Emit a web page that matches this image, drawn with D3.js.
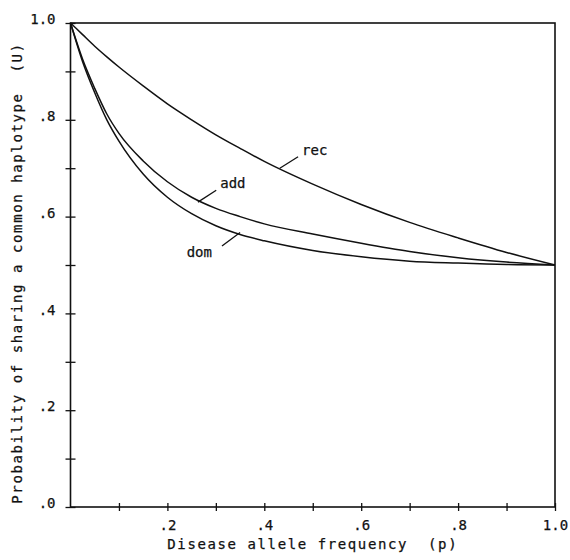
<!DOCTYPE html>
<html>
<head>
<meta charset="utf-8">
<script src="https://cdn.jsdelivr.net/npm/d3@7"></script>
<style>
  body { margin: 0; background: #fff; }
  text { font-family: "DejaVu Sans Mono", monospace; fill: #111; stroke: #111; stroke-width: 0.25; }
</style>
</head>
<body>
<script>
// values
const pValues   = [0, 0.025, 0.05, 0.075, 0.1, 0.15, 0.2, 0.25, 0.3, 0.35, 0.4, 0.5, 0.6, 0.7, 0.8, 0.9, 1.0];
const recValues = [1, 0.976, 0.952, 0.930, 0.909, 0.870, 0.833, 0.800, 0.769, 0.741, 0.714, 0.667, 0.625, 0.588, 0.556, 0.526, 0.5];
const addValues = [1, 0.925, 0.865, 0.812, 0.772, 0.715, 0.672, 0.640, 0.617, 0.600, 0.585, 0.564, 0.545, 0.528, 0.515, 0.506, 0.5];
const domValues = [1, 0.920, 0.856, 0.800, 0.756, 0.688, 0.640, 0.606, 0.581, 0.563, 0.550, 0.530, 0.517, 0.508, 0.504, 0.501, 0.5];

const seriesNames = ["rec", "add", "dom"];
// label text position (data units) and where its pointer meets the curve
const labelAt   = { rec: [0.478, 0.738], add: [0.309, 0.669], dom: [0.292, 0.527] };
const pointerTo = { rec: [0.432, 0.700], add: [0.263, 0.630], dom: [0.350, 0.567] };

const tickSteps = [0, 0.1, 0.2, 0.3, 0.4, 0.5, 0.6, 0.7, 0.8, 0.9, 1.0];
const tickLabels = { 0: ".0", 0.2: ".2", 0.4: ".4", 0.6: ".6", 0.8: ".8", 1: "1.0" };

const w = 570;
const h = 560;
const plotL = 70.5, plotR = 555, plotT = 23, plotB = 507;

const svg = d3.select("body")
    .append("svg")
    .attr("width", w)
    .attr("height", h);

const xScale = d3.scaleLinear().domain([0, 1]).range([plotL, plotR]);
const yScale = d3.scaleLinear().domain([0, 1]).range([plotB, plotT]);

const fmt = d => tickLabels[Math.round(d * 10) / 10] || "";

// frame
svg.append("rect")
    .attr("x", plotL).attr("y", plotT)
    .attr("width", plotR - plotL).attr("height", plotB - plotT)
    .attr("fill", "none").attr("stroke", "#111").attr("stroke-width", 1.6);

const xAxis = d3.axisBottom(xScale).tickValues(tickSteps.slice(1)).tickFormat(fmt).tickSize(4).tickPadding(6);
const yAxis = d3.axisLeft(yScale).tickValues(tickSteps).tickFormat(fmt).tickSize(5).tickPadding(10);

const gx = svg.append("g")
    .attr("transform", "translate(0," + plotB + ")")
    .call(xAxis);
gx.select(".domain").remove();
gx.selectAll(".tick line").attr("y1", -4).attr("stroke", "#111").attr("stroke-width", 1.3);
gx.selectAll(".tick text").attr("font-size", 14).attr("font-family", "DejaVu Sans Mono").attr("dy", "0.9em");

const gy = svg.append("g")
    .attr("transform", "translate(" + plotL + ",0)")
    .call(yAxis);
gy.select(".domain").remove();
gy.selectAll(".tick line").attr("x1", 5).attr("stroke", "#111").attr("stroke-width", 1.3);
gy.selectAll(".tick text").attr("font-size", 14).attr("font-family", "DejaVu Sans Mono").attr("dy", "0.05em");

// curves
const line = d3.line()
    .x((d, i) => xScale(pValues[i]))
    .y(d => yScale(d))
    .curve(d3.curveMonotoneX);

const seriesValues = { rec: recValues, add: addValues, dom: domValues };
seriesNames.forEach(name => {
    svg.append("path")
        .datum(seriesValues[name])
        .attr("d", line)
        .attr("fill", "none")
        .attr("stroke", "#111")
        .attr("stroke-width", 1.5);
});

// curve labels with pointers
seriesNames.forEach(name => {
    const lx = xScale(labelAt[name][0]), ly = yScale(labelAt[name][1]);
    const px = xScale(pointerTo[name][0]), py = yScale(pointerTo[name][1]);
    svg.append("text")
        .attr("x", lx).attr("y", ly)
        .attr("font-size", 14)
        .attr("text-anchor", name === "dom" ? "end" : "start")
        .attr("dy", "0.35em")
        .text(name);
    const sx = name === "dom" ? lx + 10 : lx - 4;
    const sy = name === "dom" ? ly - 6 : ly + 7;
    svg.append("line")
        .attr("x1", sx).attr("y1", sy)
        .attr("x2", px).attr("y2", py)
        .attr("stroke", "#111").attr("stroke-width", 1.3);
});

// axis titles
svg.append("text")
    .attr("x", (plotL + plotR) / 2)
    .attr("y", 549)
    .attr("text-anchor", "middle")
    .attr("font-size", 14)
    .attr("letter-spacing", 1.6)
    .style("white-space", "pre")
    .text("Disease allele frequency  (p)");

svg.append("text")
    .attr("transform", "translate(22," + ((plotT + plotB) / 2 + 8) + ") rotate(-90)")
    .attr("text-anchor", "middle")
    .attr("font-size", 14)
    .attr("letter-spacing", 1.6)
    .style("white-space", "pre")
    .text("Probability of sharing a common haplotype  (U)");
</script>
</body>
</html>
